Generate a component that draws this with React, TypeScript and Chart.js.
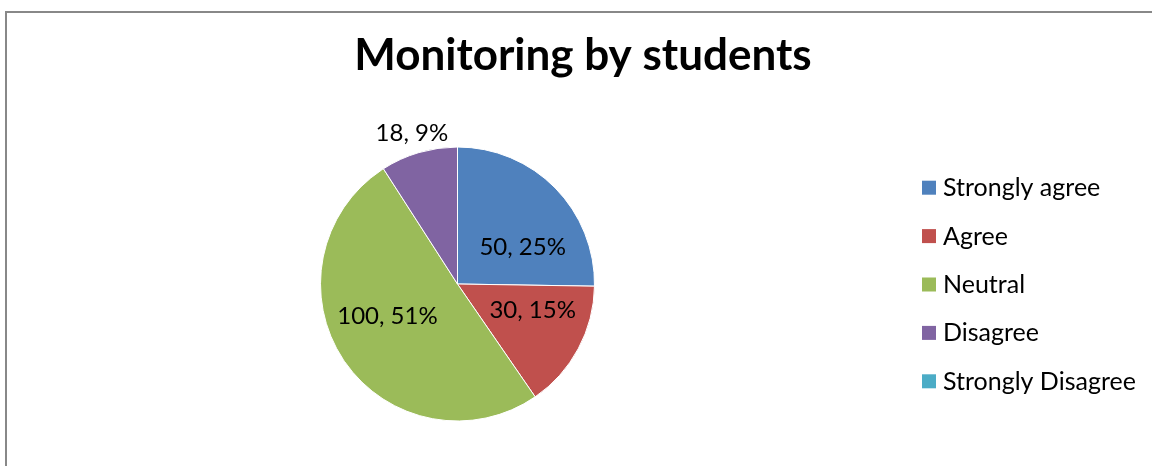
import React, { useEffect, useRef } from "react";
import { Chart, registerables } from "chart.js";

Chart.register(...registerables);

const TITLE = "Monitoring by students";
const categories = ["Strongly agree", "Agree", "Neutral", "Disagree", "Strongly Disagree"];
const values = [50, 30, 100, 18, 0];
const colors = ["#4F81BD", "#C0504D", "#9BBB59", "#8064A2", "#4BACC6"];
// label placement relative to each slice: radius factor and angle shift (degrees)
const labelRadius = [0.55, 0.58, 0.56, 1.155, 0.6];
const labelShift = [14.4, -9.2, 9.6, -0.4, 0];

const FONT = "Lato, 'Open Sans', sans-serif";

const textPlugin = {
  id: "excelText",
  afterDraw(chart: any) {
    const ctx = chart.ctx as CanvasRenderingContext2D;
    ctx.save();
    // title
    ctx.fillStyle = "#000";
    ctx.font = `bold 44px ${FONT}`;
    ctx.textAlign = "center";
    ctx.textBaseline = "alphabetic";
    ctx.fillText(TITLE, 583, 70);

    // data labels
    const meta = chart.getDatasetMeta(0);
    const data = chart.data.datasets[0].data as number[];
    const total = data.reduce((a, b) => a + b, 0);
    ctx.font = `24px ${FONT}`;
    meta.data.forEach((arc: any, i: number) => {
      const v = data[i];
      if (!v) return;
      const p = arc.getProps(["x", "y", "startAngle", "endAngle", "outerRadius"], true);
      const mid = (p.startAngle + p.endAngle) / 2 + (labelShift[i] * Math.PI) / 180;
      const d = labelRadius[i] * p.outerRadius;
      const x = p.x + Math.cos(mid) * d;
      const y = p.y + Math.sin(mid) * d;
      const pct = Math.round((v / total) * 100);
      ctx.fillText(`${v}, ${pct}%`, x, y + 8.5);
    });

    // legend
    ctx.textAlign = "left";
    ctx.font = `25px ${FONT}`;
    const labels = chart.data.labels as string[];
    const bg = chart.data.datasets[0].backgroundColor as string[];
    labels.forEach((lab, i) => {
      const cy = 187.7 + i * 48.4;
      ctx.fillStyle = bg[i];
      ctx.fillRect(922, cy - 7, 14, 14);
      ctx.fillStyle = "#000";
      ctx.fillText(lab, 943, cy + 8.5);
    });
    ctx.restore();
  },
};

export default function App() {
  const ref = useRef<HTMLCanvasElement | null>(null);
  useEffect(() => {
    if (!ref.current) return;
    const chart = new Chart(ref.current, {
      type: "pie",
      data: {
        labels: categories,
        datasets: [
          {
            data: values,
            backgroundColor: colors,
            borderColor: "#FFFFFF",
            borderWidth: 1,
          },
        ],
      },
      options: {
        responsive: false,
        animation: false,
        layout: { padding: { left: 320, right: 557, top: 146, bottom: 44 } },
        plugins: {
          legend: { display: false },
          title: { display: false },
          tooltip: { enabled: false },
        },
      },
      plugins: [textPlugin],
    });
    return () => chart.destroy();
  }, []);
  return (
    <div style={{ position: "absolute", left: 0, top: 0, width: 1152, height: 466, background: "#fff", overflow: "hidden" }}>
      <div
        style={{
          position: "absolute",
          left: 5,
          top: 11,
          width: 1200,
          height: 500,
          borderLeft: "2px solid #888",
          borderTop: "2px solid #888",
        }}
      />
      <canvas ref={ref} width={1152} height={466} style={{ position: "absolute", left: 0, top: 0 }} />
    </div>
  );
}
